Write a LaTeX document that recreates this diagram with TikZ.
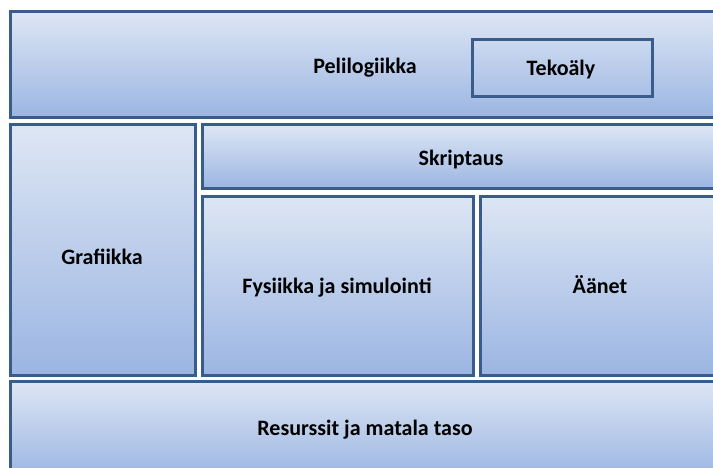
\documentclass[tikz,border=0pt]{standalone}
\usepackage{fontspec}
\setmainfont{Carlito}
\usepackage{tikz}

\definecolor{layertop}{HTML}{DDE6F4}
\definecolor{layerbot}{HTML}{9BB5E2}
\definecolor{layerline}{HTML}{3A5C8B}

\tikzset{
  layer/.style={draw=layerline,line width=3pt,top color=layertop,bottom color=layerbot},
  frame/.style={draw=layerline,line width=3pt},
  lbl/.style={font=\fontsize{22}{26}\selectfont\bfseries,text=black,anchor=base,inner sep=0pt}
}

\begin{document}
\begin{tikzpicture}[x=1pt,y=1pt]
\useasboundingbox (0,0) rectangle (713,-468);
\clip (0,0) rectangle (713,-468);
% layers
\draw[layer] (10,-12) rectangle (722,-118);
\draw[frame] (472,-40) rectangle (652,-97);
\draw[layer] (10,-125) rectangle (195,-375);
\draw[layer] (202,-125) rectangle (722,-189);
\draw[layer] (202,-197) rectangle (473,-375);
\draw[layer] (480,-197) rectangle (722,-375);
\draw[layer] (10,-381) rectangle (722,-478);
% labels
\node[lbl] (peli) at (365,-74) {Pelilogiikka};
\node[lbl] (teko) at (561,-76) {Tekoäly};
\node[lbl] (skri) at (461,-166) {Skriptaus};
\node[lbl] (graf) at (102,-265) {Grafiikka};
\node[lbl] (fysi) at (337,-293) {Fysiikka ja simulointi};
\node[lbl] (aane) at (600,-293) {Äänet};
\node[lbl] (resu) at (365,-435) {Resurssit ja matala taso};
\end{tikzpicture}
\end{document}
